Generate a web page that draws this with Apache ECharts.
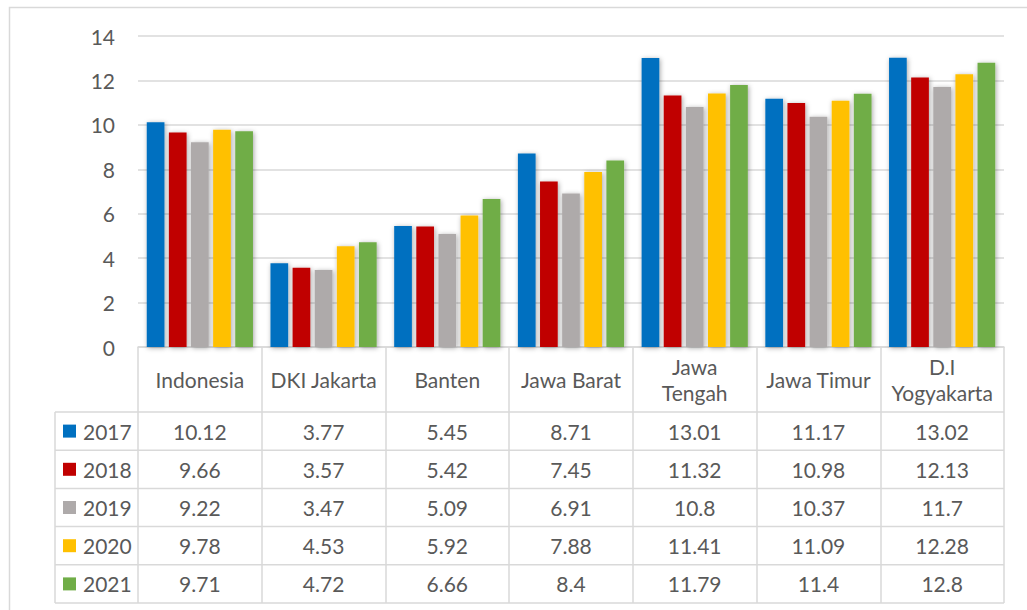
<!DOCTYPE html>
<html>
<head>
<meta charset="utf-8">
<script src="https://cdn.jsdelivr.net/npm/echarts@6/dist/echarts.min.js"></script>
<style>
  html, body { margin: 0; padding: 0; background: #ffffff; }
  #chart { width: 1027px; height: 610px; }
</style>
</head>
<body>
<div id="chart"></div>
<script>
// Regions and their wrapped header labels
const categories = ['Indonesia', 'DKI Jakarta', 'Banten', 'Jawa Barat', 'Jawa Tengah', 'Jawa Timur', 'D.I Yogyakarta'];
const headerLabels = ['Indonesia', 'DKI Jakarta', 'Banten', 'Jawa Barat', 'Jawa\nTengah', 'Jawa Timur', 'D.I\nYogyakarta'];

// Yearly values per region
const years = ['2017', '2018', '2019', '2020', '2021'];
const v2017 = [10.12, 3.77, 5.45, 8.71, 13.01, 11.17, 13.02];
const v2018 = [9.66, 3.57, 5.42, 7.45, 11.32, 10.98, 12.13];
const v2019 = [9.22, 3.47, 5.09, 6.91, 10.8, 10.37, 11.7];
const v2020 = [9.78, 4.53, 5.92, 7.88, 11.41, 11.09, 12.28];
const v2021 = [9.71, 4.72, 6.66, 8.4, 11.79, 11.4, 12.8];
const seriesValues = [v2017, v2018, v2019, v2020, v2021];

// Value axis ticks
const yMin = 0, yMax = 14, yStep = 2;

const colors = ['#0070C0', '#C00000', '#AEAAAA', '#FFC000', '#70AD47'];
const FONT = 'Lato';
const TEXT = '#595959';
const LINE = '#d9d9d9';

// Table geometry (below the plot area)
const HEADER_H = 65;
const ROW_H = 38.2;
const TABLE_LEFT = 55;

const chart = echarts.init(document.getElementById('chart'), null, { renderer: 'svg' });

const option = {
  animation: false,
  backgroundColor: '#ffffff',
  grid: { left: 138, right: 23, top: 36, bottom: 263, containLabel: false },
  xAxis: {
    type: 'category',
    data: categories,
    axisLine: { show: true, lineStyle: { color: LINE, width: 1.5 } },
    axisTick: {
      show: true, interval: 0, length: HEADER_H + ROW_H * years.length,
      lineStyle: { color: LINE, width: 1.5 }
    },
    axisLabel: {
      interval: 0,
      margin: HEADER_H / 2,
      verticalAlign: 'middle',
      color: TEXT,
      fontFamily: FONT,
      fontSize: 21,
      lineHeight: 26,
      formatter: (v, i) => headerLabels[i]
    }
  },
  yAxis: {
    type: 'value',
    min: yMin, max: yMax, interval: yStep,
    axisLine: { show: false },
    axisTick: { show: false },
    axisLabel: { color: TEXT, fontFamily: FONT, fontSize: 21, margin: 23 },
    splitLine: { lineStyle: { color: LINE, width: 1.5 } }
  },
  series: years.map((y, i) => ({
    name: y,
    type: 'bar',
    data: seriesValues[i],
    barWidth: 17.7,
    barGap: '25%',
    itemStyle: {
      color: colors[i],
      shadowBlur: 5,
      shadowColor: 'rgba(0,0,0,0.35)',
      shadowOffsetX: 1,
      shadowOffsetY: 1
    }
  }))
};

chart.setOption(option);

// Data table: built from the axis positions the chart computed
function buildTable() {
  const y0 = chart.convertToPixel({ yAxisIndex: 0 }, 0);
  const xLeft = chart.convertToPixel({ xAxisIndex: 0 }, categories[0]) - 866 / 14;
  const xRight = chart.convertToPixel({ xAxisIndex: 0 }, categories[categories.length - 1]) + 866 / 14;
  const tableTop = y0 + HEADER_H;
  const tableBottom = tableTop + ROW_H * years.length;
  const elements = [];

  // outer chart frame
  elements.push({
    type: 'rect', silent: true,
    shape: { x: 9.5, y: 7.5, width: 1040, height: 620 },
    style: { fill: 'none', stroke: LINE, lineWidth: 1.5 }
  });

  // horizontal row lines
  for (let r = 0; r <= years.length; r++) {
    const yy = tableTop + ROW_H * r;
    elements.push({
      type: 'line', silent: true,
      shape: { x1: TABLE_LEFT, y1: yy, x2: xRight, y2: yy },
      style: { stroke: LINE, lineWidth: 1.5 }
    });
  }
  // left edge of legend column
  elements.push({
    type: 'line', silent: true,
    shape: { x1: TABLE_LEFT, y1: tableTop, x2: TABLE_LEFT, y2: tableBottom },
    style: { stroke: LINE, lineWidth: 1.5 }
  });

  years.forEach((yr, r) => {
    const cy = tableTop + ROW_H * r + ROW_H / 2;
    // legend key
    elements.push({
      type: 'rect', silent: true,
      shape: { x: 63, y: cy - 6.5, width: 13, height: 13 },
      style: { fill: colors[r] }
    });
    elements.push({
      type: 'text', silent: true,
      x: 83, y: cy,
      style: {
        text: yr, fill: TEXT, font: '21px ' + FONT,
        align: 'left', verticalAlign: 'middle'
      }
    });
    // values
    categories.forEach((cat, c) => {
      const cx = chart.convertToPixel({ xAxisIndex: 0 }, cat);
      elements.push({
        type: 'text', silent: true,
        x: cx, y: cy,
        style: {
          text: String(seriesValues[r][c]), fill: TEXT, font: '21px ' + FONT,
          align: 'center', verticalAlign: 'middle'
        }
      });
    });
  });

  chart.setOption({ graphic: { elements: elements } });
}

buildTable();
</script>
</body>
</html>
